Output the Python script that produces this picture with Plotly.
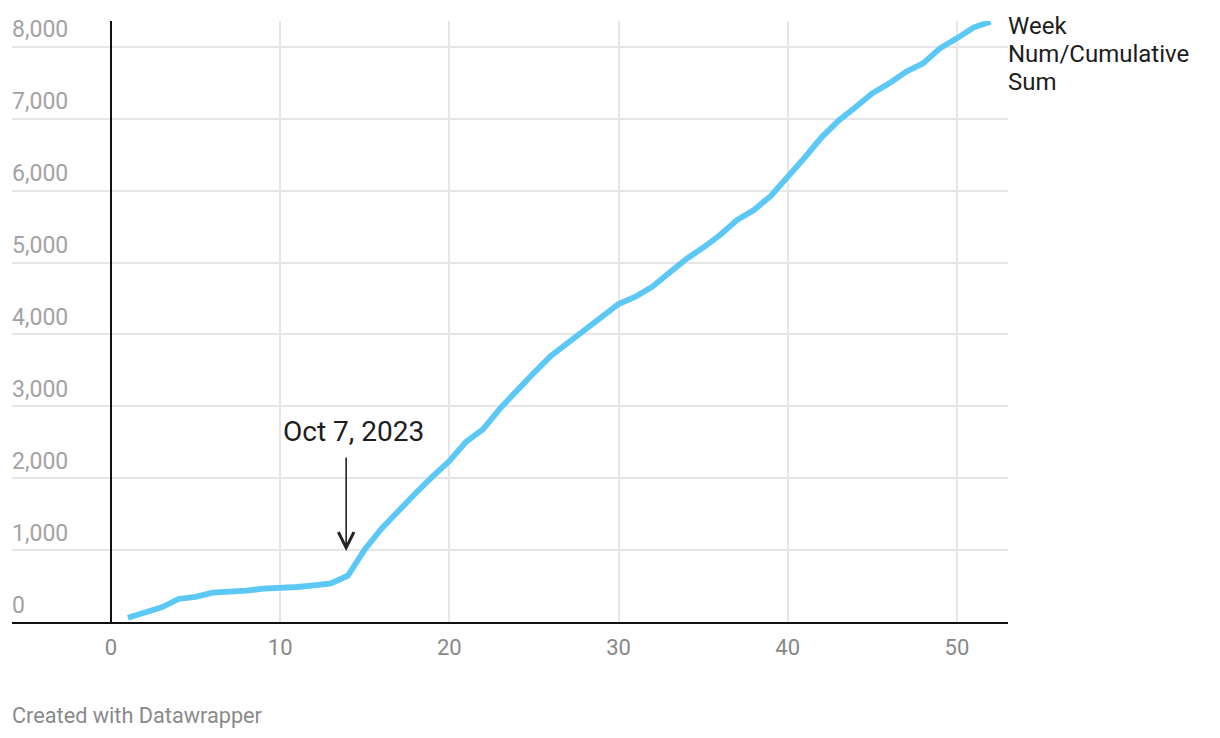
import plotly.graph_objects as go

weeks = list(range(1, 53))
cumulative = [60, 125, 204, 320, 350, 408, 414, 435, 464, 469,
              487, 510, 538, 644, 1010, 1300, 1558, 1790, 2021, 2239,
              2508, 2684, 2972, 3227, 3467, 3700, 3876, 4061, 4224, 4423,
              4525, 4664, 4858, 5049, 5206, 5382, 5591, 5730, 5925, 6185,
              6458, 6741, 6972, 7158, 7353, 7492, 7654, 7770, 7979, 8118,
              8271, 8349]
series_name_lines = ["Week", "Num/Cumulative", "Sum"]
y_ticks = [0, 1000, 2000, 3000, 4000, 5000, 6000, 7000, 8000]
y_tick_labels = ["0", "1,000", "2,000", "3,000", "4,000", "5,000", "6,000", "7,000", "8,000"]
x_ticks = [0, 10, 20, 30, 40, 50]
event_label = "Oct 7, 2023"
event_week = 13.9
event_tip = 987
event_tail = 2309
footer = "Created with Datawrapper"

FONT = "Roboto"

fig = go.Figure()
fig.add_trace(go.Scatter(
    x=weeks, y=cumulative, mode="lines",
    line=dict(color="#5bc8f5", width=5.8),
    hoverinfo="skip", showlegend=False,
))

annotations = []
for v, t in zip(y_ticks, y_tick_labels):
    annotations.append(dict(
        xref="paper", yref="y", x=0, y=v, text=t, showarrow=False,
        xanchor="left", yanchor="middle", xshift=-2, yshift=17,
        font=dict(family=FONT, size=23, color="#a3a3a3"),
    ))

annotations.append(dict(
    xref="x", yref="y", x=event_week, y=event_tip, ax=event_week, ay=event_tail,
    axref="x", ayref="y", text="", showarrow=True,
    arrowhead=5, arrowsize=1.9, arrowwidth=1.6, arrowcolor="#222222", standoff=0,
))
annotations.append(dict(
    xref="x", yref="y", x=14.33, y=2656, text=event_label, showarrow=False,
    xanchor="center", yanchor="middle",
    font=dict(family=FONT, size=28, color="#1d1d1d"),
))
for i, line in enumerate(series_name_lines):
    annotations.append(dict(
        xref="paper", yref="paper", x=1, y=1, text=line, showarrow=False,
        xanchor="left", yanchor="middle", align="left", xshift=-2,
        yshift=-5 - 28 * i,
        font=dict(family=FONT, size=24, color="#1d1d1d"),
    ))
annotations.append(dict(
    xref="paper", yref="paper", x=0, y=0, text=footer, showarrow=False,
    xanchor="left", yanchor="middle", xshift=-2, yshift=-93,
    font=dict(family=FONT, size=21.7, color="#8a8a8a"),
))

fig.update_layout(
    width=1212, height=730,
    margin=dict(l=4, r=212, t=13, b=116),
    paper_bgcolor="white", plot_bgcolor="white",
    annotations=annotations,
    xaxis=dict(
        range=[-5.851, 53.02], tickvals=x_ticks, ticktext=[str(v) for v in x_ticks],
        showgrid=True, gridcolor="#e6e6e6", gridwidth=2,
        zeroline=True, zerolinecolor="#111111", zerolinewidth=2,
        showline=True, linecolor="#111111", linewidth=2,
        ticks="", ticklabelstandoff=5,
        tickfont=dict(family=FONT, size=22, color="#888888"),
        fixedrange=True,
    ),
    yaxis=dict(
        range=[0, 8359], tickvals=y_ticks, showticklabels=False,
        showgrid=True, gridcolor="#e6e6e6", gridwidth=2,
        zeroline=False, showline=False, ticks="",
        fixedrange=True,
    ),
)

fig.write_html("out.html")
